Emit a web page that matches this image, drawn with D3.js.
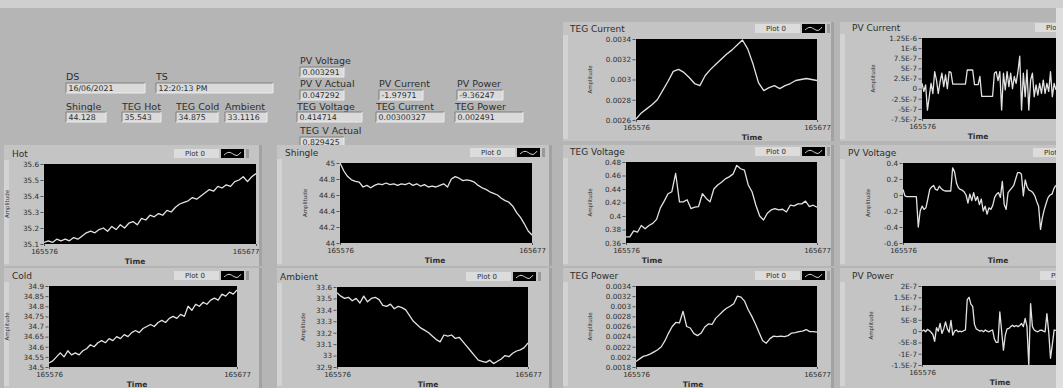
<!DOCTYPE html>
<html>
<head>
<meta charset="utf-8">
<script src="https://cdn.jsdelivr.net/npm/d3@7"></script>
<style>
  html, body { margin: 0; padding: 0; background: #b5b5b5; overflow: hidden; }
  svg { display: block; }
  text { font-family: "DejaVu Sans", sans-serif; fill: #2e2e2e; }
</style>
</head>
<body>
<svg id="panel" width="1063" height="388"></svg>
<script>
// ---- shared time axis ----
const timeRange = [165576, 165677];
const timeTickLabels = ["165576", "165677"];

// ---- numeric indicators ----
const indicatorLabels = ["DS", "TS", "Shingle", "TEG Hot", "TEG Cold", "Ambient",
  "PV Voltage", "PV V Actual", "PV Current", "PV Power",
  "TEG Voltage", "TEG Current", "TEG Power", "TEG V Actual"];
const indicatorValues = ["16/06/2021", "12:20:13 PM", "44.128", "35.543", "34.875", "33.1116",
  "0.003291", "0.047292", "-1.97971", "-9.36247",
  "0.414714", "0.00300327", "0.002491", "0.829425"];

// ---- chart series ----
const hotValues = [35.11, 35.12, 35.11, 35.13, 35.12, 35.13, 35.12, 35.14, 35.13, 35.15,
  35.17, 35.18, 35.17, 35.19, 35.20, 35.18, 35.21, 35.19, 35.22, 35.20,
  35.23, 35.24, 35.22, 35.26, 35.25, 35.28, 35.27, 35.29, 35.28, 35.31,
  35.30, 35.33, 35.35, 35.36, 35.37, 35.39, 35.38, 35.40, 35.42, 35.44,
  35.43, 35.46, 35.45, 35.47, 35.46, 35.49, 35.50, 35.52, 35.49, 35.52, 35.54];
const coldValues = [34.52, 34.53, 34.55, 34.57, 34.55, 34.58, 34.56, 34.57, 34.56, 34.58,
  34.59, 34.61, 34.60, 34.62, 34.63, 34.62, 34.64, 34.63, 34.65, 34.64,
  34.66, 34.65, 34.67, 34.68, 34.67, 34.69, 34.70, 34.71, 34.70, 34.72,
  34.73, 34.72, 34.74, 34.75, 34.74, 34.76, 34.75, 34.80, 34.78, 34.81,
  34.80, 34.82, 34.81, 34.83, 34.84, 34.83, 34.86, 34.85, 34.87, 34.86, 34.88];
const shingleValues = [45.0, 44.9, 44.83, 44.79, 44.77, 44.76, 44.7, 44.72, 44.69, 44.72,
  44.74, 44.73, 44.75, 44.73, 44.74, 44.72, 44.74, 44.73, 44.75, 44.72,
  44.74, 44.71, 44.73, 44.7, 44.71, 44.7, 44.72, 44.74, 44.7, 44.8,
  44.83, 44.81, 44.78, 44.79, 44.78, 44.76, 44.72, 44.69, 44.67, 44.64,
  44.62, 44.6, 44.56, 44.53, 44.51, 44.46, 44.38, 44.32, 44.24, 44.15, 44.1];
const ambientValues = [33.55, 33.52, 33.50, 33.51, 33.48, 33.50, 33.46, 33.52, 33.47, 33.50,
  33.51, 33.49, 33.44, 33.43, 33.45, 33.41, 33.43, 33.42, 33.40, 33.35,
  33.30, 33.27, 33.24, 33.22, 33.20, 33.17, 33.14, 33.12, 33.18, 33.17,
  33.18, 33.15, 33.16, 33.12, 33.08, 33.04, 33.00, 32.96, 32.95, 32.94,
  32.96, 32.93, 32.95, 32.97, 33.00, 32.99, 33.02, 33.04, 33.05, 33.07, 33.11];
const tegCurrentValues = [0.00261, 0.00267, 0.00271, 0.00275, 0.00280, 0.00289, 0.00298, 0.00308, 0.00310, 0.00307,
  0.00302, 0.00296, 0.00294, 0.00304, 0.00310, 0.00315, 0.00320, 0.00325, 0.00329, 0.00334,
  0.00339, 0.00330, 0.00315, 0.00297, 0.00289, 0.00292, 0.00294, 0.00291, 0.00294, 0.00296,
  0.00299, 0.00300, 0.00301, 0.00300, 0.00299];
const tegVoltageValues = [0.369, 0.369, 0.378, 0.376, 0.386, 0.381, 0.386, 0.389, 0.395, 0.412,
  0.422, 0.433, 0.436, 0.463, 0.421, 0.421, 0.424, 0.411, 0.413, 0.414,
  0.433, 0.426, 0.421, 0.440, 0.446, 0.450, 0.455, 0.458, 0.462, 0.475,
  0.470, 0.468, 0.446, 0.436, 0.416, 0.400, 0.394, 0.404, 0.409, 0.411,
  0.409, 0.410, 0.406, 0.416, 0.415, 0.418, 0.418, 0.422, 0.414, 0.416, 0.413];
const tegPowerValues = [0.00191, 0.00196, 0.00201, 0.00203, 0.00206, 0.00210, 0.00214, 0.00220, 0.00232, 0.00247,
  0.00260, 0.00268, 0.00267, 0.00290, 0.00260, 0.00257, 0.00246, 0.00242, 0.00247, 0.00259,
  0.00265, 0.00264, 0.00276, 0.00283, 0.00290, 0.00296, 0.00300, 0.00305, 0.00320, 0.00318,
  0.00310, 0.00293, 0.00280, 0.00265, 0.00248, 0.00232, 0.00227, 0.00236, 0.00241, 0.00240,
  0.00241, 0.00240, 0.00242, 0.00247, 0.00248, 0.00250, 0.00251, 0.00254, 0.00250, 0.00250, 0.00249];
const pvCurrentValues = [1.3e-7, -7e-8, 9e-8, -5.3e-7, -2e-7, 1.3e-7, -1.2e-7, 4.2e-7, 2.1e-7, -1.2e-7,
  1.7e-7, 3.8e-7, 5e-8, 3.4e-7, 0, 4.2e-7, 4e-7, 1.1e-7, 1.1e-7, 1.1e-7,
  1.1e-7, 1.1e-7, 1.1e-7, 1.1e-7, 1.1e-7, 4.6e-7, 4.6e-7, 4.6e-7, 4.6e-7, 1e-7,
  1e-7, 1e-7, 3e-7, -1.9e-7, -1.9e-7, -1.9e-7, -1.9e-7, -1.9e-7, -1.9e-7, -1.9e-7,
  3.8e-7, 4.2e-7, 2e-7, 4.2e-7, -5.3e-7, 3.8e-7, -3e-8, 4.2e-7, 5e-8, 3.8e-7,
  0, 3e-7, 1.3e-7, 4.2e-7, 8e-7, -5.3e-7, 3.8e-7, -2e-7, 4.6e-7, -5.3e-7,
  2.1e-7, 3.8e-7, -2e-7, 9e-8, -1.6e-7, 1.3e-7, -1.2e-7, 2.1e-7, -1.2e-7, 1.3e-7,
  -7e-8, 4.2e-7, -2e-7, 1.3e-7, -3e-8];
const pvVoltageValues = [0.07, -0.01, -0.02, -0.02, -0.02, -0.02, -0.02, -0.02, -0.4, -0.2,
  -0.14, -0.18, -0.16, -0.05, 0.07, 0.1, 0.12, 0.07, 0.06, 0.11,
  0.08, 0.06, 0.05, 0.05, 0.05, 0.05, 0.34, 0.29, 0.15, 0.09,
  0.07, 0.06, 0.04, 0.0, -0.1, 0.01, -0.07, 0.03, -0.07, -0.02,
  -0.12, -0.05, -0.2, -0.14, -0.24, -0.16, -0.18, -0.13, -0.03, 0.01,
  0.03, -0.03, 0.17, -0.12, -0.18, 0.03, 0.06, 0.09, 0.12, 0.2,
  0.28, 0.28, 0.26, -0.01, 0.19, 0.1, 0.06, 0.05, 0.03, -0.01,
  -0.08, -0.14, -0.43, -0.28, -0.18, -0.1, -0.03, 0.0, 0.01, 0.08, 0.12];
const pvPowerValues = [0, 5e-9, -3e-9, 8e-9, 3e-9, -5e-9, -1.5e-8, -4.5e-8, 1.5e-8, 0,
  3.4e-8, -1e-8, 1e-8, 4.1e-8, 1e-8, -5e-9, 4.8e-8, -1.8e-8, 0, 5e-9,
  -3e-9, 0, -3e-9, 2e-9, 5e-9, 1.4e-7, 1.5e-7, 1.2e-7, 1.1e-7, 3e-8,
  1e-8, 5e-9, 0, 3e-9, -3e-9, 5e-9, 0, -3e-9, 2e-9, 5e-9,
  -3.5e-8, -5e-8, -5e-8, 8.5e-8, 0, -8.4e-8, -1.8e-8, 1e-8, 1.2e-8, 2e-8,
  2.6e-8, 2e-8, 2.5e-8, 2e-8, 2.5e-8, 3.4e-8, 2e-8, 5.6e-8, 2e-8, -1.5e-7,
  1.22e-7, 2e-8, 5e-9, 0, -3e-9, 3e-9, 5e-9, 0, -3e-9, 7.8e-8,
  -3e-9, -1.2e-7, -6e-8, 5e-9, 3e-9];

// ---- axis ticks ----
const hotTicks = [35.1, 35.2, 35.3, 35.4, 35.5, 35.6];
const hotTickLabels = ["35.1", "35.2", "35.3", "35.4", "35.5", "35.6"];
const coldTicks = [34.5, 34.55, 34.6, 34.65, 34.7, 34.75, 34.8, 34.85, 34.9];
const coldTickLabels = ["34.5", "34.55", "34.6", "34.65", "34.7", "34.75", "34.8", "34.85", "34.9"];
const shingleTicks = [44, 44.2, 44.4, 44.6, 44.8, 45];
const shingleTickLabels = ["44", "44.2", "44.4", "44.6", "44.8", "45"];
const ambientTicks = [32.9, 33, 33.1, 33.2, 33.3, 33.4, 33.5, 33.6];
const ambientTickLabels = ["32.9", "33", "33.1", "33.2", "33.3", "33.4", "33.5", "33.6"];
const tegCurrentTicks = [0.0026, 0.0028, 0.003, 0.0032, 0.0034];
const tegCurrentTickLabels = ["0.0026", "0.0028", "0.003", "0.0032", "0.0034"];
const tegVoltageTicks = [0.36, 0.38, 0.4, 0.42, 0.44, 0.46, 0.48];
const tegVoltageTickLabels = ["0.36", "0.38", "0.4", "0.42", "0.44", "0.46", "0.48"];
const tegPowerTicks = [0.0018, 0.002, 0.0022, 0.0024, 0.0026, 0.0028, 0.003, 0.0032, 0.0034];
const tegPowerTickLabels = ["0.0018", "0.002", "0.0022", "0.0024", "0.0026", "0.0028", "0.003", "0.0032", "0.0034"];
const pvCurrentTicks = [-7.5e-7, -5e-7, -2.5e-7, 0, 2.5e-7, 5e-7, 7.5e-7, 1e-6, 1.25e-6];
const pvCurrentTickLabels = ["-7.5E-7", "-5E-7", "-2.5E-7", "0", "2.5E-7", "5E-7", "7.5E-7", "1E-6", "1.25E-6"];
const pvVoltageTicks = [-0.6, -0.4, -0.2, 0, 0.2, 0.4];
const pvVoltageTickLabels = ["-0.6", "-0.4", "-0.2", "0", "0.2", "0.4"];
const pvPowerTicks = [-1.5e-7, -1e-7, -5e-8, 0, 5e-8, 1e-7, 1.5e-7, 2e-7];
const pvPowerTickLabels = ["-1.5E-7", "-1E-7", "-5E-8", "0", "5E-8", "1E-7", "1.5E-7", "2E-7"];

// ---- chart layout (plot box, frame, label positions) ----
const charts = [
  { title: "Hot", values: hotValues, samples: 51, ticks: hotTicks, tickLabels: hotTickLabels,
    plot: [44, 164, 256, 244], frame: [4, 145, 262, 266], titleX: 12, legendX: 174, timeX: 135, ampX: 7 },
  { title: "Cold", values: coldValues, samples: 51, ticks: coldTicks, tickLabels: coldTickLabels,
    plot: [49, 286, 237, 367], frame: [4, 268, 262, 388], titleX: 12, legendX: 174, timeX: 137, ampX: 7 },
  { title: "Shingle", values: shingleValues, samples: 51, ticks: shingleTicks, tickLabels: shingleTickLabels,
    plot: [340, 163, 532, 243], frame: [277, 145, 552, 266], titleX: 285, legendX: 470, timeX: 435, ampX: 305 },
  { title: "Ambient", values: ambientValues, samples: 51, ticks: ambientTicks, tickLabels: ambientTickLabels,
    plot: [337, 287, 528, 367], frame: [277, 268, 552, 388], titleX: 280, legendX: 466, timeX: 428, ampX: 303 },
  { title: "TEG Current", values: tegCurrentValues, samples: 35, ticks: tegCurrentTicks, tickLabels: tegCurrentTickLabels,
    plot: [636, 39, 817, 120], frame: [563, 22, 834, 141], titleX: 570, legendX: 755, timeX: 752, ampX: 590 },
  { title: "TEG Voltage", values: tegVoltageValues, samples: 51, ticks: tegVoltageTicks, tickLabels: tegVoltageTickLabels,
    plot: [626, 162, 817, 243], frame: [563, 145, 834, 266], titleX: 570, legendX: 755, timeX: 652, ampX: 590 },
  { title: "TEG Power", values: tegPowerValues, samples: 51, ticks: tegPowerTicks, tickLabels: tegPowerTickLabels,
    plot: [636, 286, 817, 367], frame: [563, 268, 834, 388], titleX: 570, legendX: 755, timeX: 693, ampX: 590 },
  { title: "PV Current", values: pvCurrentValues, samples: 101, ticks: pvCurrentTicks, tickLabels: pvCurrentTickLabels,
    plot: [922, 38, 1103, 119], frame: [840, 22, 1063, 141], titleX: 852, legendX: 1035, timeX: 978, ampX: 873 },
  { title: "PV Voltage", values: pvVoltageValues, samples: 101, ticks: pvVoltageTicks, tickLabels: pvVoltageTickLabels,
    plot: [903, 163, 1094, 243], frame: [840, 145, 1063, 266], titleX: 848, legendX: 1033, timeX: 998, ampX: 868 },
  { title: "PV Power", values: pvPowerValues, samples: 101, ticks: pvPowerTicks, tickLabels: pvPowerTickLabels,
    plot: [922, 286, 1103, 365], frame: [840, 268, 1063, 388], titleX: 852, legendX: 1040, timeX: 1000, ampX: 871 }
];

// indicator placement: [x, labelY, boxWidth, boxY]
const indicatorLayout = [
  [66, 76, 79, 83], [156, 76, 117, 83],
  [66, 106, 40, 112], [122, 106, 39, 112], [176, 106, 42, 112], [225, 106, 42, 112],
  [300, 60, 44, 67], [300, 83, 44, 90], [379, 83, 44, 90], [457, 83, 46, 90],
  [297, 106, 65, 112], [376, 106, 68, 112], [455, 106, 68, 112], [300, 130, 44, 137]
];

const W = 1063;
const svg = d3.select("#panel");
const defs = svg.append("defs");

// light strip along the top edge of the window
svg.append("rect").attr("x", 0).attr("y", 0).attr("width", W).attr("height", 8).attr("fill", "#cfcfcf");

// ---- indicators ----
indicatorLabels.forEach((label, i) => {
  const [x, ly, w, by] = indicatorLayout[i];
  const g = svg.append("g");
  g.append("text").attr("x", x).attr("y", ly + 3.5).attr("font-size", 9.5).text(label);
  const clipId = "ind" + i;
  defs.append("clipPath").attr("id", clipId)
    .append("rect").attr("x", x).attr("y", by).attr("width", w).attr("height", 10);
  g.append("rect").attr("x", x).attr("y", by).attr("width", w).attr("height", 10)
    .attr("fill", "#dadada");
  g.append("path").attr("d", `M${x},${by + 10}V${by}H${x + w}`).attr("fill", "none")
    .attr("stroke", "#7c7c7c").attr("stroke-width", 1);
  g.append("path").attr("d", `M${x + w},${by}V${by + 10}H${x}`).attr("fill", "none")
    .attr("stroke", "#ececec").attr("stroke-width", 1);
  g.append("text").attr("x", x + 2.5).attr("y", by + 8).attr("font-size", 7.8)
    .attr("clip-path", `url(#${clipId})`).text(indicatorValues[i]);
});

// ---- waveform charts ----
charts.forEach((c, ci) => {
  const [px0, py0, px1, py1] = c.plot;
  const [fx0, fy0, fx1, fy1] = c.frame;
  const g = svg.append("g");

  // chart frame
  g.append("rect").attr("x", fx0).attr("y", fy0).attr("width", fx1 - fx0).attr("height", fy1 - fy0)
    .attr("fill", "#c4c4c4");
  g.append("rect").attr("x", fx0).attr("y", py0 - 4).attr("width", 5).attr("height", fy1 - py0 + 2)
    .attr("fill", "#d3d3d3");
  g.append("rect").attr("x", fx1 - 3).attr("y", fy0).attr("width", 3).attr("height", fy1 - fy0)
    .attr("fill", "#a2a2a2");

  const x = d3.scaleLinear().domain(timeRange).range([px0, px1]);
  const y = d3.scaleLinear().domain(d3.extent(c.ticks)).range([py1, py0]);

  // title
  g.append("text").attr("x", c.titleX).attr("y", py0 - 7).attr("font-size", 9).text(c.title);

  // legend
  const lx = c.legendX, ly = py0 - 15;
  const legendClip = "leg" + ci;
  defs.append("clipPath").attr("id", legendClip)
    .append("rect").attr("x", lx).attr("y", ly).attr("width", Math.max(0, Math.min(45, W - 7 - lx))).attr("height", 9);
  g.append("rect").attr("x", lx).attr("y", ly).attr("width", 45).attr("height", 9).attr("fill", "#dcdcdc");
  g.append("text").attr("x", lx + 11).attr("y", ly + 7).attr("font-size", 7)
    .attr("clip-path", `url(#${legendClip})`).text("Plot 0");
  g.append("rect").attr("x", lx + 47).attr("y", ly).attr("width", 23).attr("height", 9).attr("fill", "#000");
  const wave = d3.line().curve(d3.curveBasis)([[lx + 50, ly + 6], [lx + 55, ly + 2], [lx + 60, ly + 6], [lx + 64, ly + 7], [lx + 67, ly + 3]]);
  g.append("path").attr("d", wave).attr("fill", "none").attr("stroke", "#ddd").attr("stroke-width", 1);
  g.append("rect").attr("x", lx + 72).attr("y", ly).attr("width", 3).attr("height", 9).attr("fill", "#9a9a9a");

  // plot area
  g.append("rect").attr("x", px0).attr("y", py0).attr("width", px1 - px0).attr("height", py1 - py0)
    .attr("fill", "#000");
  const clipId = "plot" + ci;
  defs.append("clipPath").attr("id", clipId)
    .append("rect").attr("x", px0).attr("y", py0).attr("width", px1 - px0).attr("height", py1 - py0);

  const step = (timeRange[1] - timeRange[0]) / (c.samples - 1);
  const line = d3.line().x((v, i) => x(timeRange[0] + i * step)).y(v => y(v));
  g.append("path").attr("d", line(c.values)).attr("clip-path", `url(#${clipId})`)
    .attr("fill", "none").attr("stroke", "#e2e2e2").attr("stroke-width", 1.3)
    .attr("stroke-linejoin", "round");

  // y axis
  const yAxis = d3.axisLeft(y).tickValues(c.ticks)
    .tickFormat((d, i) => c.tickLabels[i]).tickSize(3).tickPadding(1.5);
  const ya = g.append("g").attr("transform", `translate(${px0 - 0.5},0)`).call(yAxis);
  ya.select(".domain").remove();
  ya.selectAll("line").attr("stroke", "#555");
  ya.selectAll("text").attr("font-size", 7.2).attr("fill", "#333").attr("font-family", "DejaVu Sans, sans-serif");

  // x axis: only the time marks that fall inside the window
  const visibleTimes = timeRange.filter(t => x(t) <= W);
  const xAxis = d3.axisBottom(x).tickValues(visibleTimes)
    .tickFormat(d => timeTickLabels[timeRange.indexOf(d)]).tickSize(2).tickPadding(3);
  const xa = g.append("g").attr("transform", `translate(0,${py1})`).call(xAxis);
  xa.select(".domain").remove();
  xa.selectAll("line").attr("stroke", "#555");
  xa.selectAll("text").attr("font-size", 7).attr("fill", "#333").attr("font-family", "DejaVu Sans, sans-serif")
    .attr("dy", "0.72em");
  // keep the end label inside the chart frame
  xa.selectAll(".tick").each(function (d) {
    const txt = d3.select(this).select("text").node();
    const bb = txt.getBBox();
    const right = x(d) + bb.x + bb.width;
    if (right > fx1 - 3) d3.select(txt).attr("x", (fx1 - 3) - right);
  });

  // axis names
  g.append("text").attr("x", c.timeX).attr("y", py1 + 20).attr("text-anchor", "middle")
    .attr("font-size", 7.5).attr("font-weight", "bold").text("Time");
  g.append("text").attr("transform", `translate(${c.ampX + 2},${(py0 + py1) / 2}) rotate(-90)`)
    .attr("text-anchor", "middle").attr("font-size", 5.5).text("Amplitude");
});

// edge of the window on the right
svg.append("rect").attr("x", W - 7).attr("y", 8).attr("width", 7).attr("height", 380).attr("fill", "#dedede");
</script>
</body>
</html>
